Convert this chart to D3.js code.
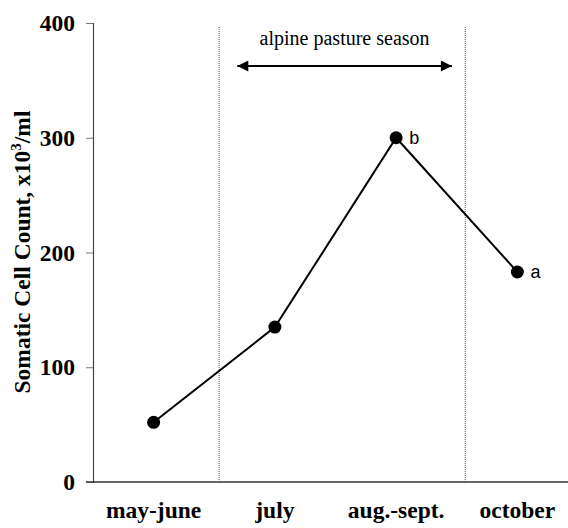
<!DOCTYPE html>
<html>
<head>
<meta charset="utf-8">
<script src="https://cdnjs.cloudflare.com/ajax/libs/d3/7.8.5/d3.min.js"></script>
<style>
  body { margin: 0; background: #fff; }
  svg { display: block; }
  .serif { font-family: "Liberation Serif", "Times New Roman", serif; }
</style>
</head>
<body>
<div id="chart"></div>
<script>
// data
const periods = ["may-june", "july", "aug.-sept.", "october"];
const scc = [52, 135, 300, 183];           // x10^3/ml
const letters = ["", "", "b", "a"];        // significance letters
const yTicks = [0, 100, 200, 300, 400];
const seasonBounds = [0.54, 2.57];         // dotted lines, in period index units
const arrowSpan = [0.69, 2.46];

const w = 568, h = 528;
const margin = {left: 93, top: 23, bottom: 46};

const svg = d3.select("#chart").append("svg")
  .attr("width", w).attr("height", h);

const x = d3.scaleLinear().domain([-0.5, 3.5]).range([margin.left, 578]);
const y = d3.scaleLinear().domain([0, 400]).range([h - margin.bottom, margin.top]);

// dotted season boundaries
svg.selectAll("line.bound")
  .data(seasonBounds)
  .enter().append("line")
  .attr("x1", d => x(d)).attr("x2", d => x(d))
  .attr("y1", y(400) + 4).attr("y2", y(0))
  .attr("stroke", "#555").attr("stroke-width", 1)
  .attr("stroke-dasharray", "1,1");

// y axis
const yAxis = svg.append("g")
  .attr("transform", "translate(" + margin.left + ",0)")
  .call(d3.axisLeft(y).tickValues(yTicks).tickSize(7).tickPadding(11));
yAxis.select(".domain").attr("stroke", "#444").attr("stroke-width", 1.2);
yAxis.selectAll(".tick line").attr("stroke", "#777");
yAxis.selectAll("text")
  .attr("class", "serif")
  .style("font-size", "23.5px").style("font-weight", "bold")
  .attr("fill", "#000");

// x axis line
svg.append("line")
  .attr("x1", margin.left - 7).attr("x2", w)
  .attr("y1", y(0)).attr("y2", y(0))
  .attr("stroke", "#333").attr("stroke-width", 1.5);

// x labels
svg.selectAll("text.xlab")
  .data(periods)
  .enter().append("text")
  .attr("class", "serif")
  .attr("x", (d, i) => x(i)).attr("y", 518)
  .attr("text-anchor", "middle")
  .style("font-size", "23.5px").style("font-weight", "bold")
  .text(d => d);

// y title
svg.append("text")
  .attr("class", "serif")
  .attr("transform", "translate(30," + 252 + ") rotate(-90)")
  .attr("text-anchor", "middle")
  .style("font-size", "23.5px").style("font-weight", "bold")
  .html('Somatic Cell Count, x10<tspan dy="-9" font-size="15px">3</tspan><tspan dy="9">/ml</tspan>');

// season arrow
svg.append("defs").append("marker")
  .attr("id", "head").attr("viewBox", "0 0 10 10")
  .attr("refX", 10).attr("refY", 5)
  .attr("markerWidth", 13).attr("markerHeight", 11)
  .attr("markerUnits", "userSpaceOnUse")
  .attr("orient", "auto-start-reverse")
  .append("path").attr("d", "M0,0L10,5L0,10Z").attr("fill", "#000");

svg.append("line")
  .attr("x1", x(arrowSpan[0])).attr("x2", x(arrowSpan[1]))
  .attr("y1", 66).attr("y2", 66)
  .attr("stroke", "#000").attr("stroke-width", 2)
  .attr("marker-start", "url(#head)").attr("marker-end", "url(#head)");

svg.append("text")
  .attr("class", "serif")
  .attr("x", x(d3.mean(arrowSpan))).attr("y", 45)
  .attr("text-anchor", "middle")
  .style("font-size", "20px")
  .text("alpine pasture season");

// line + points
const line = d3.line().x((d, i) => x(i)).y(d => y(d));
svg.append("path")
  .datum(scc)
  .attr("d", line)
  .attr("fill", "none").attr("stroke", "#000").attr("stroke-width", 2);

svg.selectAll("circle")
  .data(scc)
  .enter().append("circle")
  .attr("cx", (d, i) => x(i)).attr("cy", d => y(d))
  .attr("r", 6.5).attr("fill", "#000");

svg.selectAll("text.letter")
  .data(scc)
  .enter().append("text")
  .attr("x", (d, i) => x(i) + 13).attr("y", d => y(d) + 6)
  .style("font-family", "'Liberation Sans', Arial, sans-serif")
  .style("font-size", "18px")
  .text((d, i) => letters[i]);
</script>
</body>
</html>
